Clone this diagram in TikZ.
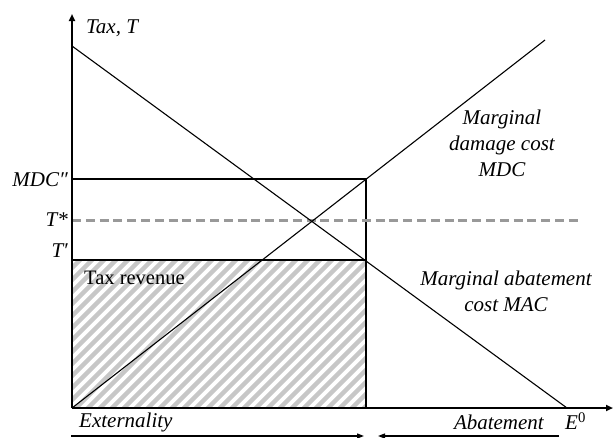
\documentclass[tikz,border=0pt]{standalone}
\usepackage{fontspec}
\setmainfont{Liberation Serif}
\usetikzlibrary{arrows.meta}
\begin{document}
\begin{tikzpicture}[x=1pt,y=-1pt,
  axis/.style={line width=2pt,-{Triangle[length=7pt,width=6pt]}},
  curve/.style={line width=1.1pt},
  guide/.style={line width=1.1pt},
  dashline/.style={line width=3pt,black!40,dash pattern=on 9pt off 4.8pt},
  hatch/.style={line width=4.5pt,black!22},
  lbl/.style={font=\fontsize{21}{26}\selectfont\itshape,inner sep=0pt},
  uplbl/.style={font=\fontsize{20.5}{25}\selectfont,inner sep=0pt},
  botarrow/.style={line width=1.3pt,-{Triangle[length=7pt,width=5pt]}}]
\useasboundingbox (0,0) rectangle (613,437);
\coordinate (O) at (72,408);
\coordinate (ytop) at (72,14);
\coordinate (xend) at (613,408);
\coordinate (A) at (72,46);
\coordinate (E0) at (567,408);
\coordinate (Q) at (366,179);
\coordinate (R) at (366,260);
\coordinate (S) at (366,408);
\coordinate (M1) at (72,179);
\coordinate (M2) at (72,260);
\coordinate (D1) at (72,220);
\coordinate (D2) at (578,220);
\coordinate (Mend) at (545,40);
% hatch
\begin{scope}
\clip (M2) rectangle (S);
\foreach \i in {-14,...,26}
  \draw[hatch] ({72+\i*12},412) -- ++(155,-155);
\end{scope}
% guides
\draw[guide] (M1) -- (Q) -- (S);
\draw[guide] (M2) -- (R);
\draw[dashline] (D1) -- (D2);
% curves
\draw[curve] (A) -- (E0);
\draw[curve] (O) -- (Mend);
% axes
\draw[axis] (O) -- (ytop);
\draw[axis] (O) -- (xend);
% bottom arrows
\coordinate (b1) at (71,436);
\coordinate (b2) at (364,436);
\coordinate (b3) at (559,436);
\coordinate (b4) at (378,436);
\draw[botarrow] (b1) -- (b2);
\draw[botarrow] (b3) -- (b4);
% labels
\node[lbl,anchor=west] (taxT) at (86,28) {Tax, T};
\node[lbl,anchor=east] (mdcpp) at (68,180) {MDC″};
\node[lbl,anchor=east] (tstar) at (68,220) {T*};
\node[lbl,anchor=east] (tprime) at (68,251) {T′};
\node[uplbl,anchor=west] (rev) at (84,278) {Tax revenue};
\node[lbl,align=center] (mdclbl) at (502,143) {Marginal\\damage cost\\MDC};
\node[lbl,align=center] (maclbl) at (506,291) {Marginal abatement\\cost MAC};
\node[lbl,anchor=west] (ext) at (79,422) {Externality};
\node[lbl,anchor=east] (abat) at (544,422) {Abatement};
\node[lbl,anchor=west] (e0) at (565,421) {E\textsuperscript{\upshape 0}};
\end{tikzpicture}
\end{document}
